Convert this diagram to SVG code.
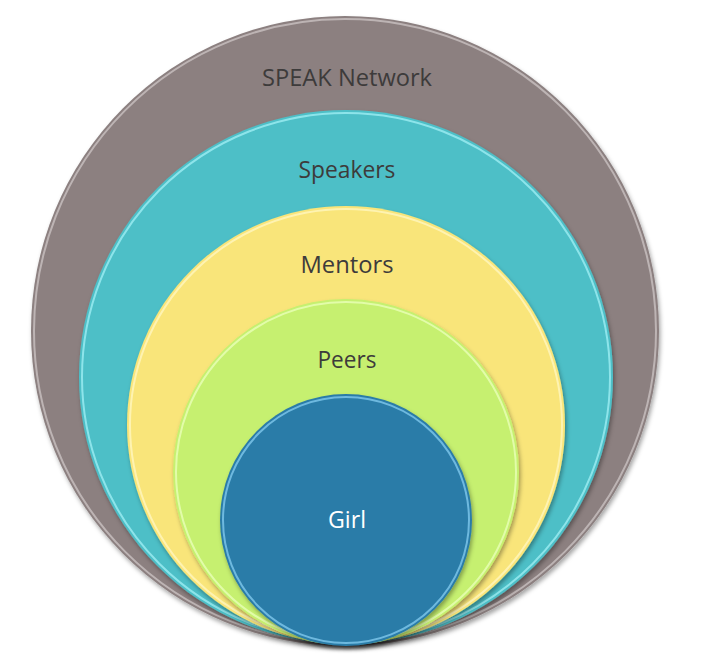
<svg xmlns="http://www.w3.org/2000/svg" width="704" height="658" viewBox="0 0 704 658">
  <style>
    .lbl { font-family: "Open Sans", "Noto Sans", "Liberation Sans", sans-serif; font-size: 24px; text-anchor: middle; fill: #3d3b3b; }
    .lbl-w { fill: #ffffff; }
    .disc { filter: url(#shadow); }
    .rim { fill: none; stroke-width: 2; opacity: 0.8; }
  </style>
  <defs>
    <filter id="shadow" x="-10%" y="-10%" width="120%" height="125%">
      <feDropShadow dx="1.5" dy="3" stdDeviation="2.2" flood-color="#000000" flood-opacity="0.35"/>
    </filter>
  </defs>
  <rect width="704" height="658" fill="#ffffff"/>

  <g id="speak-network">
    <ellipse class="disc" cx="345" cy="331" rx="314" ry="315" fill="#8c8080"/>
    <ellipse class="rim" cx="345" cy="331" rx="311" ry="312" stroke="#c9c0c0"/>
    <text class="lbl" x="347" y="86" textLength="170" lengthAdjust="spacingAndGlyphs">SPEAK Network</text>
  </g>

  <g id="speakers">
    <circle class="disc" cx="346" cy="377" r="267" fill="#4ebfc7"/>
    <circle class="rim" cx="346" cy="377" r="264" stroke="#9eeef2"/>
    <text class="lbl" x="347" y="178" textLength="97" lengthAdjust="spacingAndGlyphs">Speakers</text>
  </g>

  <g id="mentors">
    <circle class="disc" cx="346" cy="425" r="219" fill="#f9e57a"/>
    <circle class="rim" cx="346" cy="425" r="216" stroke="#fff6bf"/>
    <text class="lbl" x="347" y="273" textLength="93" lengthAdjust="spacingAndGlyphs">Mentors</text>
  </g>

  <g id="peers">
    <circle class="disc" cx="346" cy="472" r="173" fill="#c6f06f"/>
    <circle class="rim" cx="346" cy="472" r="170" stroke="#e8ffb8"/>
    <text class="lbl" x="347" y="368" textLength="59" lengthAdjust="spacingAndGlyphs">Peers</text>
  </g>

  <g id="girl">
    <circle class="disc" cx="346" cy="520" r="126" fill="#2c7ca8"/>
    <circle class="rim" cx="346" cy="520" r="123" stroke="#7fc8ec"/>
    <text class="lbl lbl-w" x="347" y="528" textLength="38" lengthAdjust="spacingAndGlyphs">Girl</text>
  </g>
</svg>
